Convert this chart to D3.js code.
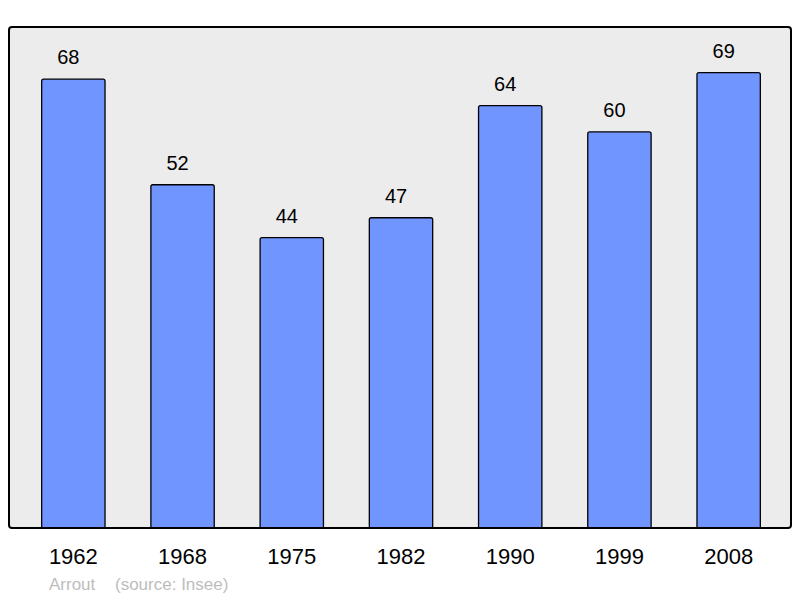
<!DOCTYPE html>
<html>
<head>
<meta charset="utf-8">
<script src="https://cdn.jsdelivr.net/npm/d3@7"></script>
<style>
  body { margin: 0; background: #fff; }
  text { font-family: "Liberation Sans", Arial, sans-serif; }
</style>
</head>
<body>
<div id="viz-container"></div>
<script>
// population per census year
var years = ["1962", "1968", "1975", "1982", "1990", "1999", "2008"];
var population = [68, 52, 44, 47, 64, 60, 69];
var sourceText = ["Arrout", "(source: Insee)"];

var width = 800,
  height = 598;

var frame = { left: 9, right: 791, top: 27, bottom: 528 };

var svg = d3.select('#viz-container')
  .append('svg')
  .attr("width", width)
  .attr("height", height)

svg.append("clipPath")
  .attr("id", "plotclip")
  .append("rect")
  .attr("x", frame.left)
  .attr("y", frame.top)
  .attr("width", frame.right - frame.left)
  .attr("height", frame.bottom - frame.top)

var x = d3.scaleBand()
  .domain(years)
  .range([frame.left + 1, frame.right + 1])
  .paddingInner(0.42)
  .paddingOuter(0.29)

var y = d3.scaleLinear()
  .domain([0, d3.max(population) * 1.1])
  .range([frame.bottom, frame.top])

// plot background
svg.append('rect')
  .attr("x", frame.left)
  .attr("y", frame.top)
  .attr("width", frame.right - frame.left)
  .attr("height", frame.bottom - frame.top)
  .attr("rx", 3)
  .style('fill', '#ececec')
  .style('stroke', 'none')

svg.append('g')
  .attr("clip-path", "url(#plotclip)")
  .selectAll("rect.bar")
  .data(population)
  .enter()
  .append("rect")
  .attr("class", "bar")
  .attr("x", function (d, i) { return x(years[i]); })
  .attr("y", function (d) { return y(d); })
  .attr("width", x.bandwidth())
  .attr("height", function (d) { return y(0) - y(d) + 6; })
  .attr("rx", 2)
  .style('fill', '#7095ff')
  .style('stroke', '#000')
  .style('stroke-width', 1.3)

// value labels
svg.selectAll("text.value")
  .data(population)
  .enter()
  .append("text")
  .attr("class", "value")
  .attr("x", function (d, i) { return x(years[i]) + x.bandwidth() / 2 - 5; })
  .attr("y", function (d) { return y(d) - 15; })
  .attr("text-anchor", "middle")
  .style("font-size", "20px")
  .style("fill", "#000")
  .text(function (d) { return d; })

// frame border
svg.append('rect')
  .attr("x", frame.left)
  .attr("y", frame.top)
  .attr("width", frame.right - frame.left)
  .attr("height", frame.bottom - frame.top)
  .attr("rx", 3)
  .style('fill', 'none')
  .style('stroke', '#000')
  .style('stroke-width', 2)

// year labels
var xAxis = d3.axisBottom(x).tickSize(0).tickPadding(0);
var axisG = svg.append('g')
  .attr("transform", "translate(0," + frame.bottom + ")")
  .call(xAxis)
axisG.select(".domain").remove();
axisG.selectAll("text")
  .attr("y", 36)
  .attr("dy", 0)
  .style("font-size", "22px")
  .style("font-family", '"Liberation Sans", Arial, sans-serif')
  .style("fill", "#000")

svg.append('text')
  .attr("x", 49)
  .attr("y", 590)
  .style("font-size", "17px")
  .style("fill", "#bdbdbd")
  .text(sourceText[0])

svg.append('text')
  .attr("x", 115)
  .attr("y", 590)
  .style("font-size", "17px")
  .style("fill", "#bdbdbd")
  .text(sourceText[1])
</script>
</body>
</html>
